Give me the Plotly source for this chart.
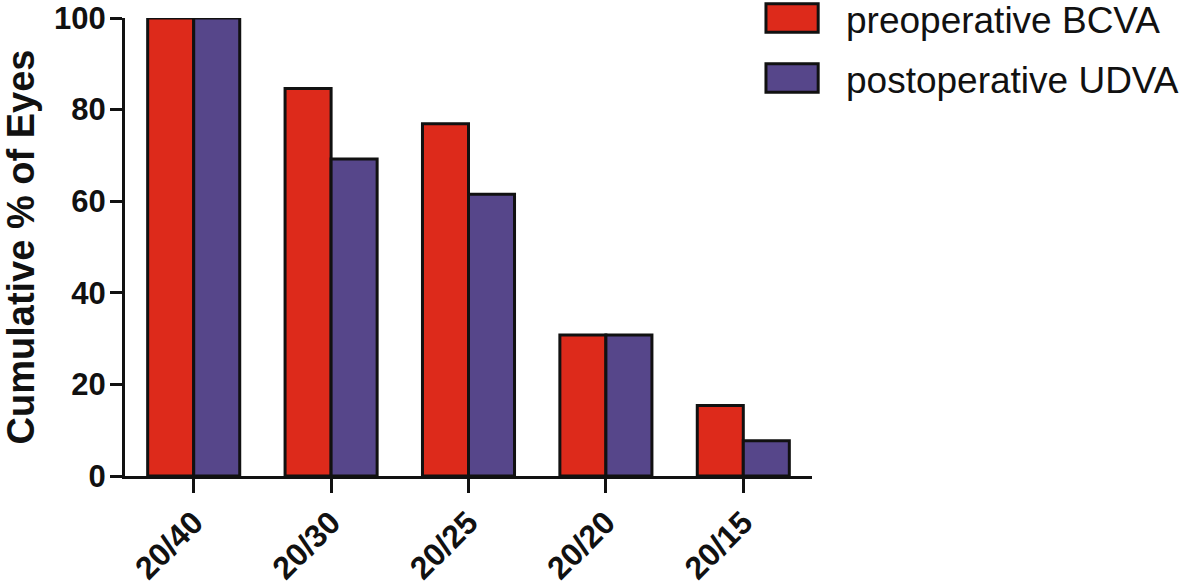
import plotly.graph_objects as go

categories = ["20/40", "20/30", "20/25", "20/20", "20/15"]
series_names = ["preoperative BCVA", "postoperative UDVA"]
preop_bcva = [100, 84.6, 76.9, 30.8, 15.4]
postop_udva = [100, 69.2, 61.5, 30.8, 7.7]
y_ticks = [0, 20, 40, 60, 80, 100]
colors = ["#DD2A1B", "#56468A"]

FONT = "Liberation Sans, Arial, Helvetica, sans-serif"

fig = go.Figure()
for name, vals, col in zip(series_names, [preop_bcva, postop_udva], colors):
    fig.add_trace(go.Bar(
        x=categories, y=vals, name=name,
        marker=dict(color=col, line=dict(color="#111111", width=3)),
        showlegend=False,
    ))

# custom legend (large boxes like the reference)
for i, (name, col) in enumerate(zip(series_names, colors)):
    y_top = 1.031 - i * 0.131
    fig.add_shape(type="rect", xref="paper", yref="paper",
                  x0=0.933, x1=1.009, y0=y_top - 0.062, y1=y_top,
                  fillcolor=col, line=dict(color="#111111", width=3))
    fig.add_annotation(xref="paper", yref="paper", x=1.047, y=y_top - 0.036,
                       text=name, showarrow=False, xanchor="left", yanchor="middle",
                       font=dict(family=FONT, size=37, color="#111111"))

fig.update_layout(
    width=1181, height=587,
    margin=dict(l=125, r=369, t=18, b=111, autoexpand=False),
    paper_bgcolor="white", plot_bgcolor="white",
    barmode="group", bargap=0.33, bargroupgap=0,
    font=dict(family=FONT, color="#111111"),
)
fig.update_xaxes(
    automargin=False,
    showline=True, linecolor="#111111", linewidth=3,
    ticks="outside", ticklen=14, tickwidth=3, tickcolor="#111111",
    ticklabelstandoff=-2,
    tickangle=-45, tickfont=dict(family=FONT, size=32, weight="bold", color="#111111"),
    showgrid=False, range=[-0.5, 4.5],
)
fig.update_yaxes(
    automargin=False,
    range=[0, 100], tickvals=y_ticks,
    showline=True, linecolor="#111111", linewidth=3,
    ticks="outside", ticklen=12, tickwidth=3, tickcolor="#111111",
    ticklabelstandoff=-2, ticklabeloverflow="allow",
    tickfont=dict(family=FONT, size=31, weight="bold", color="#111111"),
    showgrid=False, zeroline=False,
    title=dict(text="Cumulative % of Eyes", standoff=13,
               font=dict(family=FONT, size=38, weight="bold", color="#111111")),
)

fig.write_html("out.html", config={"displayModeBar": False},
               post_script="document.body.style.margin='0';")
